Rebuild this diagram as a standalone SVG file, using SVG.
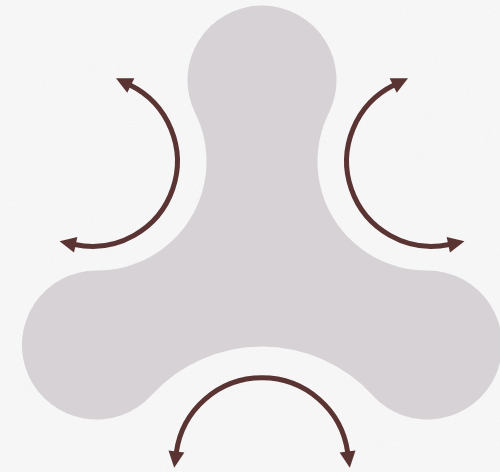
<svg xmlns="http://www.w3.org/2000/svg" width="500" height="472" viewBox="0 0 500 472">
  <style>
    .blob { fill: #d6d2d5; }
    .arrow { fill: none; stroke: #5a3333; stroke-width: 5; marker-start: url(#ah); marker-end: url(#ah); }
  </style>
  <defs>
    <marker id="ah" markerUnits="userSpaceOnUse" markerWidth="20" markerHeight="20" viewBox="-2 -10 20 20" refX="0" refY="0" orient="auto-start-reverse">
      <path d="M-1,-8 L15.5,0 L-1,8 z" fill="#5a3333"/>
    </marker>
    <filter id="paper" x="0" y="0" width="100%" height="100%">
      <feTurbulence type="fractalNoise" baseFrequency="0.7" numOctaves="2" seed="3" result="n"/>
      <feColorMatrix in="n" type="matrix" values="0 0 0 0 0.85  0 0 0 0 0.85  0 0 0 0 0.85  0 0 0 -1.6 1.0" />
    </filter>
  </defs>
  <rect width="500" height="472" fill="#f7f7f7"/>
  <rect width="500" height="472" filter="url(#paper)" opacity="0.5"/>
  <g id="blob">
    <path class="blob" d="M195.2,113 A74.5,74.5 0 1 1 328.8,113 A109.1,109.1 0 0 0 427.15,270.5 A74.5,74.5 0 1 1 372.5,395.2 A149.6,149.6 0 0 0 151.5,395.2 A74.5,74.5 0 1 1 96.85,270.5 A109.1,109.1 0 0 0 195.2,113 Z"/>
  </g>
  <g id="connectors">
    <path id="arrow-left" class="arrow" d="M129.9,85.1 A85,85 0 0 1 74.7,244.5"/>
    <path id="arrow-right" class="arrow" d="M394.1,85.1 A85,85 0 0 0 449.3,244.5"/>
    <path id="arrow-bottom" class="arrow" d="M176.3,452.5 A86.5,86.5 0 0 1 347.7,452.5"/>
  </g>
</svg>
